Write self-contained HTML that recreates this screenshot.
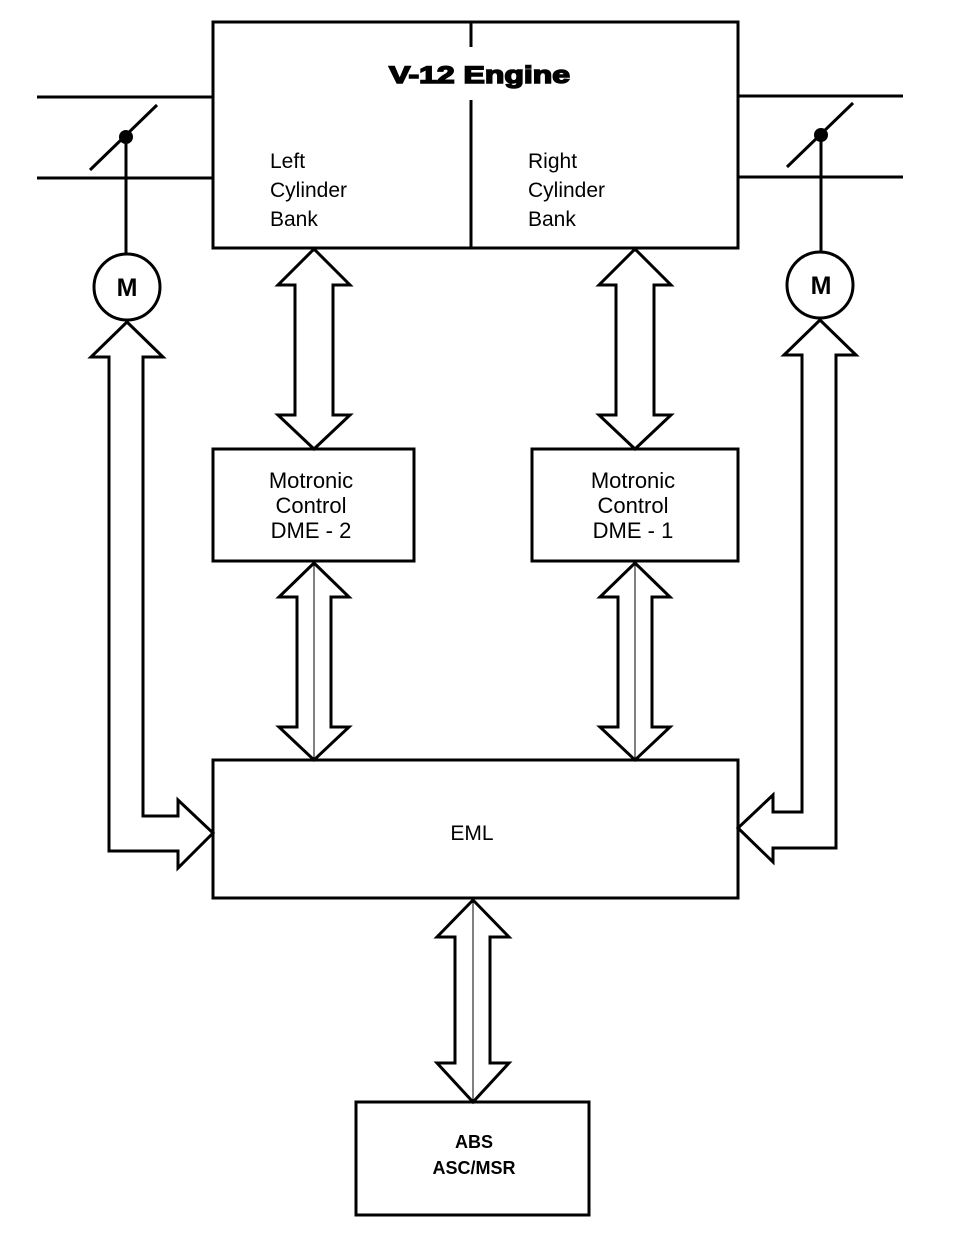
<!DOCTYPE html>
<html><head><style>body{margin:0;background:#fff}svg{display:block}</style></head><body>
<svg width="960" height="1234" viewBox="0 0 960 1234" xmlns="http://www.w3.org/2000/svg" font-family="Liberation Sans, sans-serif">
<g fill="none" stroke="#000" stroke-width="3" stroke-linejoin="miter">
<rect x="213" y="22" width="525" height="226"/>
<line x1="471" y1="22" x2="471" y2="47"/>
<line x1="471" y1="100" x2="471" y2="248"/>
<line x1="37" y1="97" x2="213" y2="97"/><line x1="37" y1="178" x2="213" y2="178"/>
<line x1="738" y1="96" x2="903" y2="96"/><line x1="738" y1="177" x2="903" y2="177"/>
<line x1="90" y1="170" x2="157" y2="105"/><line x1="126" y1="137" x2="126" y2="254"/>
<line x1="787" y1="167" x2="853" y2="103"/><line x1="821" y1="135" x2="821" y2="252"/>
<circle cx="127" cy="287" r="33"/><circle cx="820" cy="285" r="33"/>
<rect x="213" y="449" width="201" height="112"/>
<rect x="532" y="449" width="206" height="112"/>
<rect x="213" y="760" width="525" height="138"/>
<rect x="356" y="1102" width="233" height="113"/>
<path d="M314 249 L350 285 L333 285 L333 415 L350 415 L314 449 L278 415 L295 415 L295 285 L278 285 Z"/>
<path d="M635 249 L671 285 L654 285 L654 415 L671 415 L635 449 L599 415 L616 415 L616 285 L599 285 Z"/>
<path d="M314 563 L349 597 L331 597 L331 727 L349 727 L314 760 L279 727 L297 727 L297 597 L279 597 Z"/>
<path d="M635 563 L670 597 L652 597 L652 727 L670 727 L635 760 L600 727 L618 727 L618 597 L600 597 Z"/>
<path d="M473 900 L509 937 L490 937 L490 1063 L509 1063 L473 1102 L437 1063 L455 1063 L455 937 L437 937 Z"/>
<path d="M127 322 L163 357 L143 357 L143 816 L178 816 L178 800 L213 833 L178 868 L178 851 L109 851 L109 357 L91 357 Z"/>
<path d="M820 320 L856 355 L836 355 L836 848 L773 848 L773 862 L738 828 L773 795 L773 812 L802 812 L802 355 L784 355 Z"/>
</g>
<g stroke="#000" stroke-width="1">
<line x1="314" y1="565" x2="314" y2="758"/><line x1="635" y1="565" x2="635" y2="758"/><line x1="473" y1="902" x2="473" y2="1100"/>
</g>
<circle cx="126" cy="137" r="7"/><circle cx="821" cy="135" r="7"/>
<g font-size="24">
<text x="389" y="83" font-weight="bold" textLength="181" lengthAdjust="spacingAndGlyphs" stroke="#000" stroke-width="1.5">V-12 Engine</text>
<text x="270" y="168" font-size="21">Left</text><text x="270" y="197" font-size="21">Cylinder</text><text x="270" y="226" font-size="21">Bank</text>
<text x="528" y="168" font-size="21">Right</text><text x="528" y="197" font-size="21">Cylinder</text><text x="528" y="226" font-size="21">Bank</text>
<text x="127" y="296" text-anchor="middle" font-weight="bold" font-size="25">M</text>
<text x="821" y="294" text-anchor="middle" font-weight="bold" font-size="25">M</text>
<g font-size="22" text-anchor="middle">
<text x="311" y="488">Motronic</text><text x="311" y="513">Control</text><text x="311" y="538">DME - 2</text>
<text x="633" y="488">Motronic</text><text x="633" y="513">Control</text><text x="633" y="538">DME - 1</text>
<text x="472" y="840" font-size="21">EML</text>
<text x="474" y="1148" font-size="18" font-weight="bold">ABS</text><text x="474" y="1174" font-size="18" font-weight="bold">ASC/MSR</text>
</g></g>
</svg>
</body></html>
